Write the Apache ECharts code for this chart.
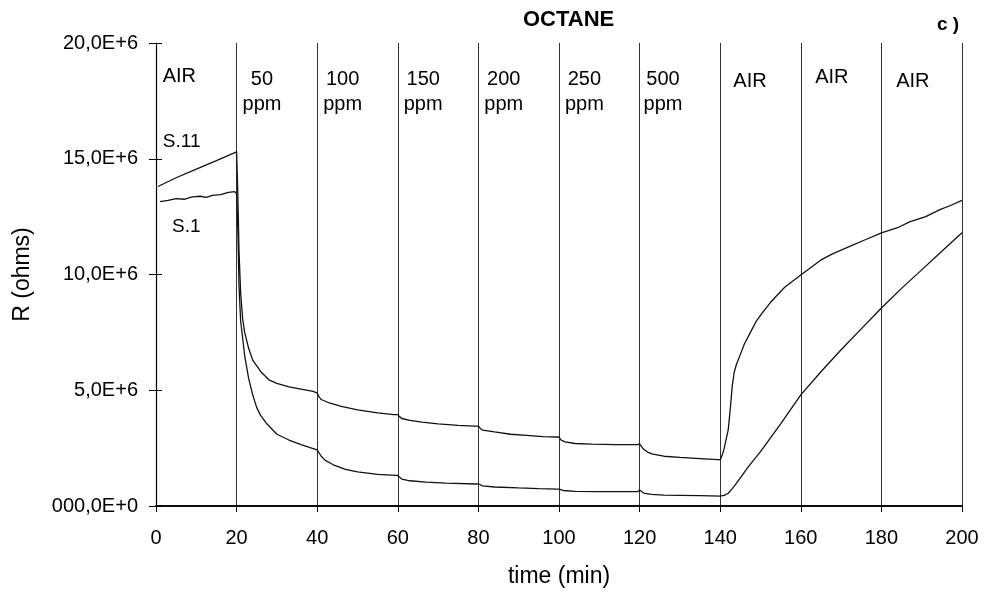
<!DOCTYPE html>
<html>
<head>
<meta charset="utf-8">
<script src="https://cdn.jsdelivr.net/npm/echarts@6/dist/echarts.min.js"></script>
<style>
  html, body { margin: 0; padding: 0; background: #fff; }
  #chart { width: 991px; height: 593px; }
</style>
</head>
<body>
<div id="chart"></div>
<script>
// ---------- DATA (resistance in units of 1E+6 ohms, time in min) ----------
const xTickValues = [0, 20, 40, 60, 80, 100, 120, 140, 160, 180, 200];
const yTickLabels = ['000,0E+0', '5,0E+6', '10,0E+6', '15,0E+6', '20,0E+6'];

// Sensor S.11 (upper trace)
const seriesS11 = [
  [0.5, 13.8], [5, 14.18], [10, 14.55], [15, 14.92], [20, 15.3],
  [20.3, 13.5], [20.6, 11.0], [21, 9.2], [21.5, 8.1], [22, 7.5], [23, 6.8], [24, 6.3],
  [26, 5.8], [28, 5.45], [30, 5.3], [33, 5.15], [36, 5.05], [39, 4.95], [40, 4.88],
  [40.5, 4.7], [41, 4.6], [43, 4.45], [46, 4.3], [50, 4.15], [55, 4.02], [59, 3.95], [60, 3.95],
  [60.5, 3.85], [61, 3.78], [63, 3.7], [66, 3.62], [70, 3.55], [75, 3.48], [79, 3.45], [80, 3.45],
  [80.5, 3.35], [81, 3.28], [84, 3.2], [88, 3.1], [92, 3.05], [96, 3.0], [99.5, 2.98], [100, 2.98],
  [100.5, 2.85], [101.5, 2.77], [104, 2.7], [108, 2.67], [114, 2.65], [119.5, 2.65], [120, 2.68],
  [121, 2.45], [122, 2.33], [123, 2.25], [126, 2.15], [130, 2.1], [135, 2.05], [139.5, 2.0], [140, 1.99],
  [140.5, 2.2], [141, 2.5], [141.5, 2.9], [142, 3.3], [142.5, 4.2], [143, 5.2], [143.5, 5.8], [144, 6.1],
  [145, 6.55], [146, 7.0], [147.5, 7.5], [149, 8.0], [150.5, 8.35], [152.5, 8.8], [156, 9.45], [160, 9.98],
  [165, 10.63], [168, 10.9], [172, 11.2], [176, 11.5], [180, 11.8], [184, 12.02], [187, 12.27],
  [191, 12.5], [194.5, 12.8], [197, 12.97], [200, 13.2]
];

// Sensor S.1 (lower trace)
const seriesS1 = [
  [1, 13.15], [3, 13.2], [5, 13.28], [7, 13.25], [9, 13.35], [11, 13.38], [12.5, 13.33],
  [14, 13.42], [16, 13.45], [18, 13.55], [19.5, 13.58], [20, 13.5],
  [20.3, 12.0], [20.6, 9.5], [21, 8.0], [22, 6.5], [23, 5.5], [24, 4.8], [25, 4.25], [26, 3.9],
  [27.5, 3.55], [30, 3.1], [33, 2.85], [36, 2.65], [39, 2.48], [40, 2.42],
  [41, 2.15], [42, 1.97], [44, 1.78], [47, 1.58], [50, 1.47], [55, 1.37], [59.5, 1.32], [60, 1.32],
  [61, 1.16], [63, 1.09], [67, 1.03], [72, 0.99], [79.5, 0.95], [80, 0.96],
  [81, 0.87], [84, 0.82], [90, 0.78], [95, 0.75], [99.5, 0.73], [100, 0.73],
  [101, 0.67], [104, 0.63], [110, 0.62], [119.5, 0.62], [120, 0.69],
  [121, 0.56], [123, 0.5], [126, 0.47], [130, 0.46], [135, 0.45], [140, 0.43],
  [141, 0.46], [142, 0.55], [143, 0.75], [144, 0.98], [145, 1.22], [147, 1.7], [150, 2.35],
  [155, 3.55], [160, 4.8], [165, 5.8], [170, 6.75], [175, 7.65], [180, 8.55], [185, 9.4],
  [190, 10.2], [195, 11.0], [200, 11.8]
];

// Segment annotations (gas exposure phases)
const segmentLabels = ['AIR', '50\nppm', '100\nppm', '150\nppm', '200\nppm', '250\nppm', '500\nppm', 'AIR', 'AIR', 'AIR'];
const seriesNames = ['S.11', 'S.1'];

// ---------- LAYOUT / STYLE (not data) ----------
const segmentLabelX = [5.8, 26.3, 46.3, 66.3, 86.3, 106.3, 125.8, 147.4, 167.7, 187.8];
const segmentLabelDy = [21, 24, 24, 24, 24, 24, 24, 26, 22, 26];
const seriesLabelPos = [[1.7, 15.72], [4.0, 12.05]];

const FONT = "'Liberation Sans', Arial, sans-serif";

const chart = echarts.init(document.getElementById('chart'), null, { renderer: 'canvas' });

const option = {
  backgroundColor: '#ffffff',
  animation: false,
  title: [
    { text: 'OCTANE', left: 518, top: 4,
      textStyle: { fontFamily: FONT, fontSize: 22, fontWeight: 'bold', color: '#000' } },
    { text: '{c|c} )', left: 932, top: 10,
      textStyle: { fontFamily: FONT, fontSize: 19, color: '#000',
        rich: { c: { fontFamily: FONT, fontSize: 19, fontWeight: 'bold', color: '#000' } } } }
  ],
  grid: { left: 156, right: 29, top: 43, bottom: 87, show: false },
  xAxis: [
    {
      type: 'value', min: 0, max: 200, interval: 20,
      axisLine: { show: true, lineStyle: { color: '#000', width: 1.5 } },
      axisTick: { show: true, length: 6, lineStyle: { color: '#000' } },
      axisLabel: { fontFamily: FONT, fontSize: 20, color: '#000', margin: 22,
        formatter: v => String(xTickValues[Math.round(v / 20)]) },
      splitLine: { show: true, lineStyle: { color: '#333', width: 1, type: 'solid' } },
      name: 'time (min)', nameLocation: 'middle', nameGap: 59,
      nameTextStyle: { fontFamily: FONT, fontSize: 23, color: '#000' }
    },
    {
      type: 'value', position: 'top', min: 0, max: 200,
      axisLine: { show: true, lineStyle: { color: '#000', width: 1.5 } },
      axisTick: { show: false }, axisLabel: { show: false }, splitLine: { show: false }
    }
  ],
  yAxis: [
    {
      type: 'value', min: 0, max: 20, interval: 5,
      axisLine: { show: true, lineStyle: { color: '#000', width: 1.2 } },
      axisTick: { show: true, length: 7, lineStyle: { color: '#000' } },
      axisLabel: { fontFamily: FONT, fontSize: 20, color: '#000', margin: 18,
        formatter: v => yTickLabels[Math.round(v / 5)] },
      splitLine: { show: false },
      name: 'R (ohms)', nameLocation: 'middle', nameGap: 122, nameRotate: 90,
      nameTextStyle: { fontFamily: FONT, fontSize: 23, color: '#000' }
    },
    {
      type: 'value', min: 0, max: 20, interval: 5, position: 'left',
      axisLine: { show: false },
      axisTick: { show: true, inside: true, length: 6, lineStyle: { color: '#000' } },
      axisLabel: { show: false }, splitLine: { show: false }
    }
  ],
  series: [
    {
      name: seriesNames[0], type: 'line', data: seriesS11, showSymbol: false, smooth: false,
      lineStyle: { color: '#111', width: 1.3 }, z: 3
    },
    {
      name: seriesNames[1], type: 'line', data: seriesS1, showSymbol: false, smooth: false,
      lineStyle: { color: '#111', width: 1.3 }, z: 3
    },
    {
      name: 'segments', type: 'scatter', symbolSize: 0, silent: true, z: 4,
      itemStyle: { opacity: 1, color: '#000' },
      data: segmentLabels.map((txt, i) => ({
        name: txt, value: [segmentLabelX[i], 20],
        label: { offset: [0, segmentLabelDy[i]] }
      })),
      label: {
        show: true, position: 'inside', formatter: '{b}', align: 'center', verticalAlign: 'top',
        fontFamily: FONT, fontSize: 20, lineHeight: 25, color: '#000', opacity: 1,
        textBorderWidth: 0, textBorderColor: 'transparent'
      }
    },
    {
      name: 'seriesTags', type: 'scatter', symbolSize: 0, silent: true, z: 4,
      itemStyle: { opacity: 1, color: '#000' },
      data: seriesNames.map((txt, i) => ({ name: txt, value: seriesLabelPos[i] })),
      label: {
        show: true, position: 'inside', formatter: '{b}', align: 'left', verticalAlign: 'middle',
        fontFamily: FONT, fontSize: 19, color: '#000', opacity: 1,
        textBorderWidth: 0, textBorderColor: 'transparent'
      }
    }
  ]
};

chart.setOption(option);
</script>
</body>
</html>
